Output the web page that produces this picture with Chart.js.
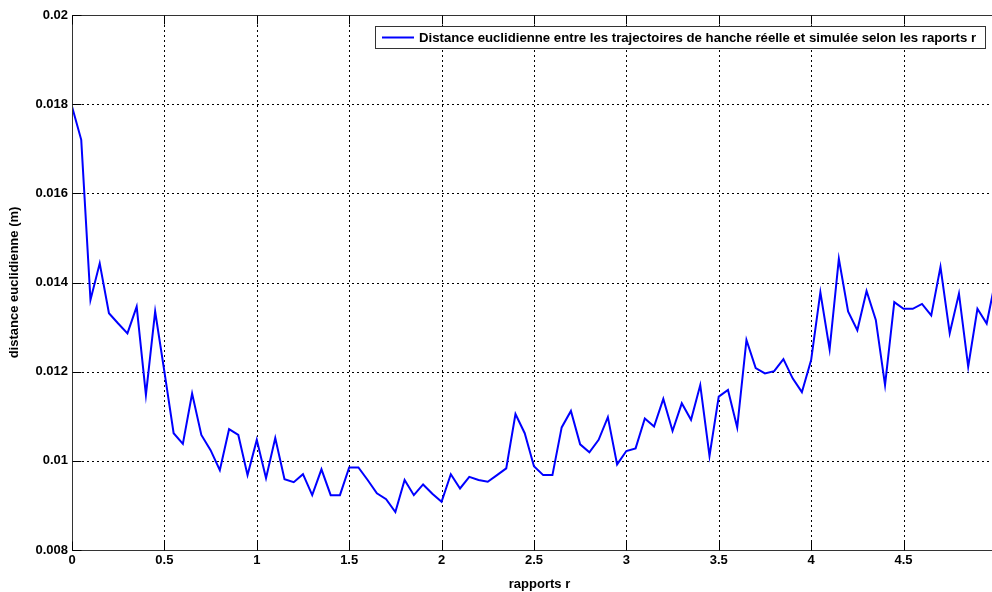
<!DOCTYPE html>
<html>
<head>
<meta charset="utf-8">
<script src="https://cdn.jsdelivr.net/npm/chart.js@4/dist/chart.umd.min.js"></script>
<style>
  html, body { margin: 0; background: #fff; overflow: hidden; }
</style>
</head>
<body>
<!-- the original figure is cut on the right, so the canvas runs a little past the window -->
<canvas id="distChart" width="1007" height="592"></canvas>
<script>
// ratios r (x) and euclidean distance (y)
const ratios = [
  0, 0.05, 0.1, 0.15, 0.2, 0.25, 0.3, 0.35, 0.4, 0.45,
  0.5, 0.55, 0.6, 0.65, 0.7, 0.75, 0.8, 0.85, 0.9, 0.95,
  1, 1.05, 1.1, 1.15, 1.2, 1.25, 1.3, 1.35, 1.4, 1.45,
  1.5, 1.55, 1.6, 1.65, 1.7, 1.75, 1.8, 1.85, 1.9, 1.95,
  2, 2.05, 2.1, 2.15, 2.2, 2.25, 2.3, 2.35, 2.4, 2.45,
  2.5, 2.55, 2.6, 2.65, 2.7, 2.75, 2.8, 2.85, 2.9, 2.95,
  3, 3.05, 3.1, 3.15, 3.2, 3.25, 3.3, 3.35, 3.4, 3.45,
  3.5, 3.55, 3.6, 3.65, 3.7, 3.75, 3.8, 3.85, 3.9, 3.95,
  4, 4.05, 4.1, 4.15, 4.2, 4.25, 4.3, 4.35, 4.4, 4.45,
  4.5, 4.55, 4.6, 4.65, 4.7, 4.75, 4.8, 4.85, 4.9, 4.95,
  5
];
const distances = [
  0.01795, 0.0172, 0.01361, 0.01443, 0.01331, 0.01308, 0.01286, 0.01346, 0.01148, 0.01335,
  0.0120, 0.01062, 0.01038, 0.01151, 0.01058, 0.01024, 0.00979, 0.01071, 0.01058, 0.00968,
  0.01047, 0.00961, 0.01051, 0.00959, 0.00952, 0.0097, 0.00923, 0.00981, 0.00923, 0.00923,
  0.00985, 0.00985, 0.00957, 0.00927, 0.00914, 0.00885, 0.00957, 0.00923, 0.00947, 0.00926,
  0.00908, 0.0097, 0.00938, 0.00964, 0.00957, 0.00953, 0.00968, 0.00983, 0.01105, 0.01062,
  0.00988, 0.00968, 0.00968, 0.01075, 0.01112, 0.01037, 0.01019, 0.01047, 0.01098, 0.00992,
  0.01022, 0.01028, 0.01095, 0.01077, 0.01139, 0.01067, 0.01129, 0.01092, 0.0117, 0.01011,
  0.01144, 0.01159, 0.01075, 0.01271, 0.01208, 0.01196, 0.01201, 0.01228, 0.01185, 0.01154,
  0.01226, 0.01378, 0.0125, 0.01453, 0.01335, 0.01293, 0.01381, 0.01316, 0.0117, 0.01356,
  0.01341, 0.01341, 0.01352, 0.01326, 0.01435, 0.01286, 0.01375, 0.01211, 0.01341, 0.01308,
  0.0141
];
const xTicks = [0, 0.5, 1, 1.5, 2, 2.5, 3, 3.5, 4, 4.5, 5];
const yTicks = [0.008, 0.01, 0.012, 0.014, 0.016, 0.018, 0.02];
const legendLabel = "Distance euclidienne entre les trajectoires de hanche réelle et simulée selon les raports r";

const FONT = "'Liberation Sans', Arial, sans-serif";

function makePoints(xs, ys) {
  const pts = [];
  for (let i = 0; i < xs.length; i++) {
    pts.push({x: xs[i], y: ys[i]});
  }
  return pts;
}

// matlab style dotted grid, inner tick marks, box and legend
const matlabAxes = {
  id: "matlabAxes",
  beforeDatasetsDraw(chart) {
    const {ctx, chartArea: a, scales} = chart;
    ctx.save();
    ctx.strokeStyle = "#000";
    ctx.lineWidth = 1;
    ctx.setLineDash([2, 3]);
    for (const v of xTicks) {
      if (v === 0) continue;
      const px = Math.round(scales.x.getPixelForValue(v)) + 0.5;
      ctx.beginPath();
      ctx.moveTo(px, a.top);
      ctx.lineTo(px, a.bottom);
      ctx.stroke();
    }
    for (const v of yTicks) {
      if (v === 0.008 || v === 0.02) continue;
      const py = Math.round(scales.y.getPixelForValue(v)) + 0.5;
      ctx.beginPath();
      ctx.moveTo(a.left, py);
      ctx.lineTo(a.right, py);
      ctx.stroke();
    }
    ctx.restore();
  },
  afterDatasetsDraw(chart) {
    const {ctx, chartArea: a, scales} = chart;
    ctx.save();
    ctx.strokeStyle = "#333";
    ctx.lineWidth = 1;
    ctx.setLineDash([]);
    const L = Math.round(a.left) + 0.5, T = Math.round(a.top) + 0.5;
    const B = Math.round(a.bottom) + 0.5, R = Math.round(a.right) - 0.5;
    ctx.strokeRect(L, T, R - L, B - T);
    // ticks inside the box
    ctx.strokeStyle = "#000";
    for (const v of xTicks) {
      const px = Math.round(scales.x.getPixelForValue(v)) + 0.5;
      ctx.beginPath();
      ctx.moveTo(px, B); ctx.lineTo(px, B - 9);
      ctx.moveTo(px, T); ctx.lineTo(px, T + 9);
      ctx.stroke();
    }
    for (const v of yTicks) {
      const py = Math.round(scales.y.getPixelForValue(v)) + 0.5;
      ctx.beginPath();
      ctx.moveTo(L, py); ctx.lineTo(L + 9, py);
      ctx.moveTo(R, py); ctx.lineTo(R - 9, py);
      ctx.stroke();
    }
    // legend box
    ctx.font = "bold 13.2px " + FONT;
    const tw = ctx.measureText(legendLabel).width;
    const boxL = 375.5, boxT = 26.5, boxB = 48.5;
    const textX = 419;
    const boxR = Math.round(textX + tw + 9) + 0.5;
    ctx.fillStyle = "#fff";
    ctx.fillRect(boxL, boxT, boxR - boxL, boxB - boxT);
    ctx.strokeStyle = "#333";
    ctx.strokeRect(boxL, boxT, boxR - boxL, boxB - boxT);
    ctx.strokeStyle = "#0000ff";
    ctx.lineWidth = 2;
    ctx.beginPath();
    ctx.moveTo(382, 37.5);
    ctx.lineTo(414, 37.5);
    ctx.stroke();
    ctx.fillStyle = "#000";
    ctx.textBaseline = "middle";
    ctx.textAlign = "left";
    ctx.fillText(legendLabel, textX, 38);
    ctx.restore();
  }
};

const myChart = new Chart("distChart", {
  type: "line",
  data: {
    datasets: [{
      label: legendLabel,
      data: makePoints(ratios, distances),
      borderColor: "#0000ff",
      borderWidth: 2,
      pointRadius: 0,
      tension: 0,
      fill: false
    }]
  },
  options: {
    responsive: false,
    animation: false,
    layout: { padding: { top: 15, right: 0, left: 0, bottom: 0 } },
    plugins: {
      legend: { display: false },
      tooltip: { enabled: false }
    },
    scales: {
      x: {
        type: "linear",
        min: 0,
        max: 5.06,
        afterFit(scale) { scale.height = 42; },
        afterBuildTicks(scale) { scale.ticks = xTicks.map(v => ({value: v})); },
        grid: { display: false, drawTicks: false },
        border: { display: false },
        ticks: {
          padding: 3,
          color: "#000",
          font: { family: FONT, size: 13, weight: "bold" },
          callback: v => String(+Number(v).toFixed(3))
        },
        title: {
          display: true,
          text: "rapports r",
          color: "#000",
          font: { family: FONT, size: 13, weight: "bold" },
          padding: { top: 0, bottom: 0 }
        }
      },
      y: {
        min: 0.008,
        max: 0.02,
        afterFit(scale) { scale.width = 72; },
        afterBuildTicks(scale) { scale.ticks = yTicks.map(v => ({value: v})); },
        grid: { display: false, drawTicks: false },
        border: { display: false },
        ticks: {
          padding: 4,
          color: "#000",
          font: { family: FONT, size: 13, weight: "bold" },
          callback: v => String(+Number(v).toFixed(4))
        },
        title: {
          display: true,
          text: "distance euclidienne (m)",
          color: "#000",
          font: { family: FONT, size: 13, weight: "bold" },
          padding: { top: 7, bottom: 0 }
        }
      }
    }
  },
  plugins: [matlabAxes]
});
</script>
</body>
</html>
